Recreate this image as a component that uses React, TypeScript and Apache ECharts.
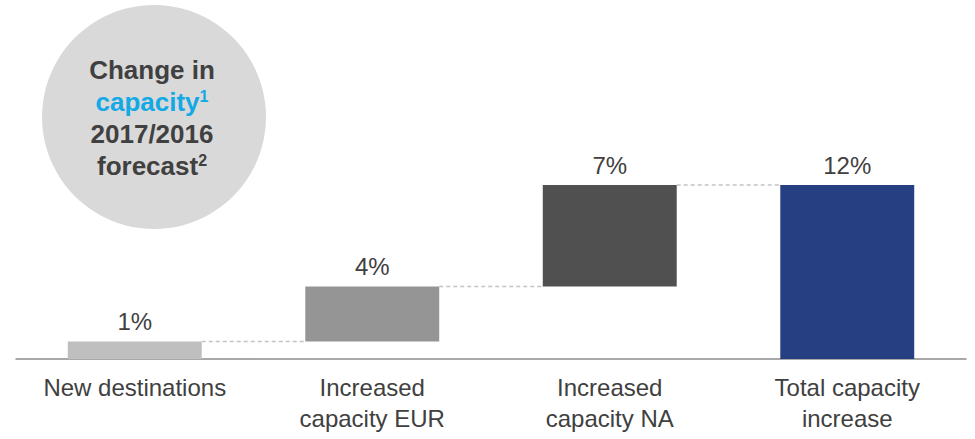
import React, { useEffect, useRef } from "react";
import * as echarts from "echarts";

const categories = ["New destinations", "Increased\ncapacity EUR", "Increased\ncapacity NA", "Total capacity\nincrease"];
const increments = [1.2, 3.8, 7.0];
const total = 12.0;
const barColors = ["#bfbfbf", "#959595", "#505050", "#263e82"];
const circleLines = ["Change in", "capacity", "2017/2016", "forecast"];
const footnoteMarks = ["1", "2"];

const FONT = "Arial, 'Liberation Sans', sans-serif";

export default function App() {
  const ref = useRef<HTMLDivElement>(null);
  useEffect(() => {
    if (!ref.current) return;
    const chart = echarts.init(ref.current, undefined, { renderer: "svg" });

    const values = [...increments, total];
    const bases: number[] = [];
    let cum = 0;
    increments.forEach((v) => {
      bases.push(cum);
      cum += v;
    });
    bases.push(0);
    const tops = values.map((v, i) => bases[i] + v);
    const connectors = tops.slice(0, 3).map((t, i) => [i, t]);

    const supStyle = { fontSize: 16, fontWeight: "bold", fontFamily: FONT, lineHeight: 16, verticalAlign: "middle", padding: [0, 0, 10, 0] };

    const option: any = {
      animation: false,
      grid: { left: 16, right: 9, top: 185, bottom: 80 },
      xAxis: {
        type: "category",
        data: categories,
        axisTick: { show: false },
        axisLine: { lineStyle: { color: "#8c8c8c", width: 1.5 } },
        axisLabel: {
          color: "#404040",
          fontSize: 24,
          lineHeight: 31,
          fontFamily: FONT,
          margin: 13,
          interval: 0,
        },
      },
      yAxis: { type: "value", min: 0, max: 12, show: false, splitLine: { show: false } },
      graphic: [
        { type: "circle", z: 0, shape: { cx: 154, cy: 117, r: 112 }, style: { fill: "#d9d9d9" } },
        {
          type: "text",
          z: 1,
          x: 152,
          y: 117.5,
          style: {
            text:
              `{b|${circleLines[0]}}\n{c|${circleLines[1]}}{cs|${footnoteMarks[0]}}\n{b|${circleLines[2]}}\n{b|${circleLines[3]}}{s|${footnoteMarks[1]}}`,
            align: "center",
            verticalAlign: "middle",
            rich: {
              b: { fontSize: 26, fontWeight: "bold", fill: "#404040", fontFamily: FONT, lineHeight: 32 },
              c: { fontSize: 26, fontWeight: "bold", fill: "#12a9e6", fontFamily: FONT, lineHeight: 32 },
              cs: { ...supStyle, fill: "#12a9e6" },
              s: { ...supStyle, fill: "#404040" },
            },
          },
        },
      ],
      series: [
        {
          type: "bar",
          stack: "w",
          barWidth: "56.4%",
          data: bases,
          itemStyle: { color: "transparent" },
          silent: true,
        },
        {
          type: "bar",
          stack: "w",
          barWidth: "56.4%",
          data: values.map((v, i) => ({ value: v, itemStyle: { color: barColors[i] } })),
          label: {
            show: true,
            position: "top",
            distance: 8,
            color: "#404040",
            fontSize: 24,
            fontFamily: FONT,
            formatter: (p: any) => Math.round(p.value) + "%",
          },
        },
        {
          type: "custom",
          data: connectors,
          renderItem: (params: any, api: any) => {
            const i = api.value(0);
            const y = api.value(1);
            const a = api.coord([i, y]);
            const b = api.coord([i + 1, y]);
            const half = api.size([1, 0])[0] * 0.282;
            return {
              type: "line",
              shape: { x1: a[0] + half, y1: a[1], x2: b[0] - half, y2: b[1] },
              style: { stroke: "#c4c4c4", lineWidth: 1.5, lineDash: [4, 3] },
            };
          },
        },
      ],
    };
    chart.setOption(option);
    return () => chart.dispose();
  }, []);
  return <div ref={ref} style={{ position: "absolute", left: 0, top: 0, width: 975, height: 439 }} />;
}
